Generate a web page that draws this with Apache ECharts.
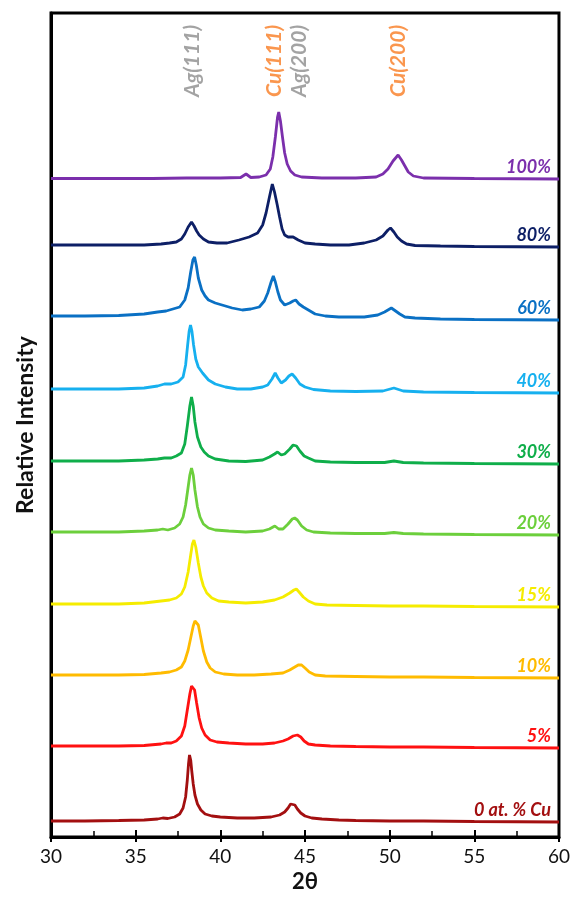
<!DOCTYPE html>
<html>
<head>
<meta charset="utf-8">
<script src="https://cdn.jsdelivr.net/npm/echarts@6/dist/echarts.min.js"></script>
<style>
html,body{margin:0;padding:0;background:#fff;}
#chart{width:573px;height:901px;}
</style>
</head>
<body>
<div id="chart"></div>
<script>
// ---- Data: [2theta, intensity above each pattern's own baseline] ----
const cu0 = [[30,1],[32,1],[34,1.5],[35.5,2],[36.3,3],[36.6,4],[36.9,3.5],[37.3,5],[37.6,8],[37.8,14],[37.95,25],[38.05,42],[38.12,58],[38.18,67],[38.25,62],[38.32,50],[38.4,38],[38.5,27],[38.65,18],[38.85,12],[39.1,8],[39.5,6],[40,5],[41,4],[42,4],[43,5],[43.5,7],[43.8,10],[44.0,14],[44.15,18],[44.26,19.5],[44.4,17],[44.55,13],[44.75,9],[45,6],[45.4,4],[46,3],[47,2],[48,1.5],[50,1],[52,1],[55,0.5],[60,0]];
const cu5 = [[30,2],[32,2],[34,2],[35.5,2.5],[36.5,4],[36.8,5],[37.1,5],[37.4,7],[37.7,12],[37.9,22],[38.05,38],[38.2,54],[38.3,62],[38.38,64],[38.48,58],[38.6,45],[38.75,30],[38.9,20],[39.1,13],[39.4,8],[39.8,6],[40.5,5],[41.5,4],[42.5,4],[43.2,5],[43.7,7],[44.0,9],[44.3,12],[44.55,13],[44.75,11],[44.95,7],[45.2,4],[45.6,3],[46.5,2],[48,1.5],[50,1],[52,1],[55,0.5],[60,0]];
const cu10 = [[30,3],[32,3],[34,3],[35.5,3.5],[36.5,5],[37,6],[37.4,8],[37.7,11],[37.9,17],[38.1,28],[38.25,40],[38.4,52],[38.5,57],[38.6,57],[38.7,53],[38.85,40],[39.0,27],[39.2,16],[39.4,10],[39.7,6],[40.2,4],[41,3],[42,3],[43,4],[43.7,5],[44.1,8],[44.4,11],[44.6,13],[44.8,13],[45.0,10],[45.25,6],[45.6,3],[46.2,2],[48,1.5],[50,1],[52,1],[55,0.5],[60,0]];
const cu15 = [[30,3],[32,3],[34,3],[35.5,4],[36.5,6],[37,7],[37.4,9],[37.7,13],[37.9,20],[38.1,35],[38.25,52],[38.35,63],[38.44,67],[38.55,60],[38.7,44],[38.85,30],[39.0,21],[39.2,14],[39.5,9],[39.9,6],[40.5,5],[41.5,4],[42.5,5],[43.2,7],[43.7,10],[44.1,14],[44.35,17],[44.49,18],[44.65,15],[44.9,10],[45.2,6],[45.6,3],[46.3,2],[48,1.5],[50,1],[52,1],[55,0.5],[60,0]];
const cu20 = [[30,3],[32,3],[34,3],[35.5,4],[36.3,5],[36.6,6],[36.9,5],[37.3,7],[37.6,11],[37.8,18],[37.95,30],[38.1,48],[38.2,60],[38.3,67],[38.4,60],[38.5,45],[38.65,28],[38.8,18],[39.0,11],[39.3,7],[39.7,5],[40.5,4],[41.5,3],[42.5,4],[42.9,6],[43.22,9],[43.45,6],[43.7,6],[44.0,11],[44.25,16],[44.39,17],[44.55,15],[44.8,9],[45.1,5],[45.5,3],[46.5,2],[48,1.5],[49.7,1.5],[50.25,2.5],[50.8,1.5],[52,1],[55,0.5],[60,0]];
const cu30 = [[30,3],[32,3],[34,3],[35.5,4],[36.3,5],[36.7,6],[37.1,6],[37.4,8],[37.7,11],[37.9,20],[38.05,38],[38.2,58],[38.3,67],[38.4,58],[38.5,42],[38.65,27],[38.85,17],[39.05,12],[39.3,8],[39.7,5],[40.5,3],[41.5,2.5],[42.5,4],[42.9,7],[43.2,10],[43.38,12],[43.6,9],[43.8,10],[44.1,15],[44.3,19],[44.39,20],[44.5,18],[44.7,13],[44.95,8],[45.2,6],[45.6,3],[46.5,2],[48,1.5],[49.7,1.5],[50.25,3],[50.8,1.5],[52,1],[55,0.5],[60,0]];
const cu40 = [[30,4],[32,4],[34,4],[35.5,5],[36.3,7],[36.7,9],[37.1,9],[37.5,11],[37.8,16],[37.95,28],[38.07,48],[38.16,62],[38.24,68],[38.32,62],[38.42,48],[38.55,34],[38.7,26],[38.95,20],[39.3,13],[39.7,9],[40.3,6],[41,4],[41.8,4],[42.5,6],[42.8,8],[43.05,14],[43.24,20],[43.4,15],[43.6,10],[43.85,13],[44.05,17],[44.24,19],[44.45,15],[44.7,9],[45.0,6],[45.5,3.5],[46.5,2],[48,1.5],[49.6,2],[50.25,5],[50.8,2],[52,1],[55,0.5],[60,0]];
const cu60 = [[30,4],[32,4],[34,4.5],[35.5,6],[36.3,8],[36.8,9],[37.2,11],[37.6,13],[37.9,20],[38.1,32],[38.25,48],[38.38,60],[38.48,63],[38.58,55],[38.7,42],[38.9,30],[39.1,24],[39.3,20],[39.7,17],[40.1,15],[40.7,12],[41.3,10],[41.8,11],[42.3,13],[42.6,19],[42.8,27],[43.0,38],[43.13,44],[43.25,38],[43.4,28],[43.55,20],[43.8,15],[44.1,17],[44.3,19],[44.45,20],[44.65,16],[44.9,13],[45.2,10],[45.6,6],[46.2,4],[47,3],[48.5,3],[49.3,5],[49.7,8],[50.1,12],[50.35,9],[50.6,6],[50.9,3],[51.5,2],[53,1],[55,0.5],[60,0]];
const cu80 = [[30,2],[32,2],[34,2],[35.5,2],[36.5,3],[37.0,4],[37.4,5],[37.7,8],[37.9,13],[38.1,20],[38.3,25],[38.45,21],[38.6,16],[38.75,12],[39.0,8],[39.3,5],[39.8,4],[40.4,4],[41.1,7],[41.7,10],[42.2,14],[42.5,22],[42.7,34],[42.9,50],[43.07,63],[43.2,55],[43.35,43],[43.5,30],[43.65,18],[43.8,12],[44.0,10],[44.3,10],[44.6,7],[45.0,4],[45.6,3],[46.5,2],[47.6,2],[48.5,4],[49.2,7],[49.6,11],[49.9,17],[50.05,19],[50.25,15],[50.45,10],[50.7,6],[51.0,3],[51.5,1.5],[53,1],[55,0.5],[60,0]];
const cu100 = [[30,0.5],[33,0.5],[36,0.5],[38,1],[40,1],[41.2,1.5],[41.52,5],[41.8,1.5],[42.3,2],[42.7,4],[42.95,10],[43.1,22],[43.25,42],[43.38,62],[43.45,67],[43.55,58],[43.67,42],[43.8,26],[43.95,15],[44.15,8],[44.4,4],[44.8,2],[46,1],[48,1],[49.2,2],[49.6,5],[49.9,10],[50.2,18],[50.5,24],[50.7,19],[50.9,13],[51.1,7],[51.4,3],[52,1],[55,0.5],[60,0]];

const patterns = [cu0, cu5, cu10, cu15, cu20, cu30, cu40, cu60, cu80, cu100];
const seriesNames = ['0 at. % Cu','5%','10%','15%','20%','30%','40%','60%','80%','100%'];
const offsets = [15, 89, 159, 230, 302, 373, 444, 517, 590, 658]; // vertical stacking offsets (relative intensity units)

const peakNames = ['Ag(111)','Cu(111)','Ag(200)','Cu(200)'];
const peakAngles = [38.34, 43.2, 44.65, 50.5];

const xTicks = [30,35,40,45,50,55,60];

// ---- Styles ----
const colors = ['#a30f10','#ff1111','#ffbb00','#f5ec00','#6ccf3c','#0fae4a','#16b0ef','#0a70c4','#0d1f66','#7b2fac'];
const peakColors = ['#8c8c8c','#f97c22','#8c8c8c','#f97c22'];
const FONT = 'Lato';

const chart = echarts.init(document.getElementById('chart'), null, {renderer:'canvas'});

const series = patterns.map((p, i) => ({
  type: 'line',
  name: seriesNames[i],
  showSymbol: false,
  animation: false,
  lineStyle: {color: colors[i], width: 2.8},
  itemStyle: {color: colors[i]},
  data: p.map(d => [d[0], d[1] + offsets[i]]),
  z: 3,
  markPoint: {
    symbol: 'circle',
    symbolSize: 0,
    animation: false,
    data: [{coord: [60, offsets[i]]}],
    label: {
      show: true,
      formatter: seriesNames[i],
      position: 'left',
      distance: 8,
      offset: [0, -12],
      color: colors[i],
      fontFamily: FONT,
      fontStyle: 'italic',
      fontWeight: 'bold',
      fontSize: 18
    }
  }
}));

series.push({
  type: 'scatter',
  symbolSize: 0,
  animation: false,
  silent: true,
  data: peakNames.map((n, i) => ({
    value: [peakAngles[i], 776],
    label: {
      show: true,
      formatter: n,
      rotate: 90,
      position: 'inside',
      color: peakColors[i],
      fontFamily: FONT,
      fontStyle: 'italic',
      fontWeight: 'bold',
      fontSize: 21
    }
  }))
});

chart.setOption({
  backgroundColor: '#fff',
  animation: false,
  grid: {left: 51, right: 10, top: 13, bottom: 64, show: true, borderColor: '#000', borderWidth: 3, backgroundColor: 'transparent'},
  xAxis: [{
    type: 'value', min: xTicks[0], max: xTicks[xTicks.length-1], interval: 5,
    axisLine: {show: true, onZero: false, lineStyle: {color: '#000', width: 3}},
    axisTick: {show: true, inside: true, length: 7, lineStyle: {color: '#000', width: 2}},
    minorTick: {show: true, splitNumber: 2, length: 6, lineStyle: {color: '#000', width: 1.5}},
    axisLabel: {margin: 10, fontSize: 19, color: '#111', fontFamily: FONT},
    splitLine: {show: false},
    name: '2θ', nameLocation: 'middle', nameGap: 33,
    nameTextStyle: {fontSize: 22, fontWeight: 'bold', color: '#111', fontFamily: FONT}
  }, {
    type: 'value', min: xTicks[0], max: xTicks[xTicks.length-1], interval: 5, position: 'bottom',
    axisLine: {show: false},
    axisTick: {show: true, inside: false, length: 5, lineStyle: {color: '#000', width: 2}},
    axisLabel: {show: false},
    splitLine: {show: false}
  }],
  yAxis: {
    type: 'value', min: 0, max: 824,
    axisLine: {show: true, lineStyle: {color: '#000', width: 3}},
    axisTick: {show: false},
    axisLabel: {show: false},
    splitLine: {show: false},
    name: 'Relative Intensity', nameLocation: 'middle', nameGap: 14, nameRotate: 90,
    nameTextStyle: {fontSize: 23, fontWeight: 'bold', color: '#111', fontFamily: FONT}
  },
  series: series
});
</script>
</body>
</html>
